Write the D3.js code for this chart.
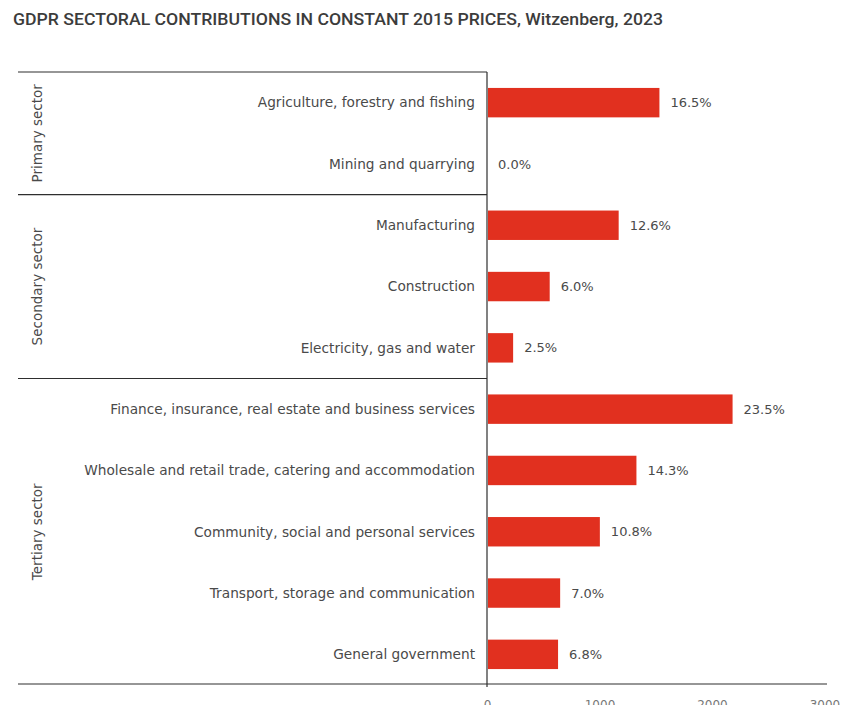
<!DOCTYPE html>
<html>
<head>
<meta charset="utf-8">
<script src="https://cdn.jsdelivr.net/npm/d3@7"></script>
<style>
  html, body { margin: 0; padding: 0; background: #fff; }
  svg { display: block; }
</style>
</head>
<body>
<svg id="chart" width="859" height="713"></svg>
<script>
// Sector contributions to GDPR (constant 2015 prices), Witzenberg 2023
const categories = [
  "Agriculture, forestry and fishing",
  "Mining and quarrying",
  "Manufacturing",
  "Construction",
  "Electricity, gas and water",
  "Finance, insurance, real estate and business services",
  "Wholesale and retail trade, catering and accommodation",
  "Community, social and personal services",
  "Transport, storage and communication",
  "General government"
];
const shares = [16.5, 0.0, 12.6, 6.0, 2.5, 23.5, 14.3, 10.8, 7.0, 6.8];
const sectorNames = ["Primary sector", "Secondary sector", "Tertiary sector"];
const sectorSizes = [2, 3, 5];
const axisTicks = [0, 1000, 2000, 3000];
const totalGdpr = 9290; // R million

const svg = d3.select("#chart");
const textColor = "#4a4a4a";
const lineColor = "#2e2e2e";
const barColor = "#e1301f";
const labelFont = "'DejaVu Sans', sans-serif";

const plotTop = 72, plotBottom = 685, axisX = 487, leftEdge = 18, rightEdge = 827;

const x = d3.scaleLinear().domain([0, totalGdpr]).range([axisX, axisX + 1045]);
const y = d3.scaleBand().domain(categories).range([plotTop, plotBottom])
  .paddingInner(0.52).paddingOuter(0.26);
const gap = y.step() - y.bandwidth();

// Title
svg.append("text")
  .attr("x", 13).attr("y", 25)
  .attr("textLength", 650).attr("lengthAdjust", "spacingAndGlyphs")
  .style("font-family", "Roboto, sans-serif")
  .style("font-size", "16px").style("font-weight", 500)
  .style("fill", "#3c3c3c")
  .text("GDPR SECTORAL CONTRIBUTIONS IN CONSTANT 2015 PRICES, Witzenberg, 2023");

// Sector group separators and labels
let start = 0;
const boundaries = [plotTop];
sectorSizes.forEach((n, i) => {
  const y0 = y(categories[start]) - gap / 2;
  const y1 = y(categories[start + n - 1]) + y.bandwidth() + gap / 2;
  svg.append("text")
    .attr("transform", `translate(42,${(y0 + y1) / 2}) rotate(-90)`)
    .attr("text-anchor", "middle")
    .style("font-family", labelFont).style("font-size", "13.5px")
    .style("fill", textColor)
    .text(sectorNames[i]);
  if (i < sectorSizes.length - 1) boundaries.push(y1);
  start += n;
});
svg.selectAll("line.sep").data(boundaries).join("line")
  .attr("class", "sep")
  .attr("x1", leftEdge).attr("x2", axisX)
  .attr("y1", d => d).attr("y2", d => d)
  .attr("stroke", lineColor).attr("stroke-width", 1.2);

// Category labels
svg.selectAll("text.cat").data(categories).join("text")
  .attr("class", "cat")
  .attr("x", 475)
  .attr("y", d => y(d) + y.bandwidth() / 2)
  .attr("dy", "0.35em")
  .attr("text-anchor", "end")
  .style("font-family", labelFont).style("font-size", "13.7px")
  .style("fill", textColor)
  .text(d => d);

// Bars
const data = categories.map((c, i) => ({ c, v: shares[i] }));
svg.selectAll("rect.bar").data(data).join("rect")
  .attr("class", "bar")
  .attr("x", x(0) + 1)
  .attr("y", d => y(d.c))
  .attr("width", d => Math.max(0, x(d.v / 100 * totalGdpr) - x(0) - 1))
  .attr("height", y.bandwidth())
  .attr("fill", barColor);

// Value labels
svg.selectAll("text.val").data(data).join("text")
  .attr("class", "val")
  .attr("x", d => x(d.v / 100 * totalGdpr) + 11)
  .attr("y", d => y(d.c) + y.bandwidth() / 2)
  .attr("dy", "0.35em")
  .style("font-family", labelFont).style("font-size", "13px")
  .style("fill", textColor)
  .text(d => d.v.toFixed(1) + "%");

// Axes lines
svg.append("line")
  .attr("x1", axisX).attr("x2", axisX)
  .attr("y1", plotTop).attr("y2", plotBottom + 2)
  .attr("stroke", lineColor).attr("stroke-width", 1.2);
svg.append("line")
  .attr("x1", leftEdge).attr("x2", rightEdge)
  .attr("y1", plotBottom - 1).attr("y2", plotBottom - 1)
  .attr("stroke", lineColor).attr("stroke-width", 1.2);

// Bottom value axis; its labels run off the lower edge of the panel
svg.append("defs").append("clipPath").attr("id", "axisClip")
  .append("rect").attr("x", 0).attr("y", -20).attr("width", 859).attr("height", 28);
const axisG = svg.append("g")
  .attr("transform", `translate(0,${plotBottom + 12})`)
  .attr("clip-path", "url(#axisClip)")
  .call(d3.axisBottom(x).tickValues(axisTicks).tickSize(0).tickFormat(d3.format("d")));
axisG.select(".domain").remove();
axisG.selectAll("text")
  .style("font-family", labelFont).style("font-size", "12px")
  .style("fill", "#777");
</script>
</body>
</html>
